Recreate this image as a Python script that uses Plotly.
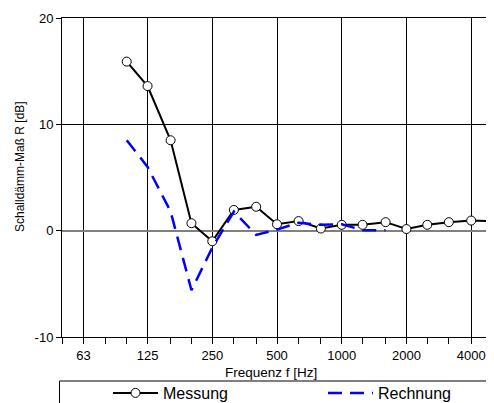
import plotly.graph_objects as go

# ---- data ----
freq_mess = [100, 125, 160, 200, 250, 315, 400, 500, 630, 800, 1000, 1250,
             1600, 2000, 2500, 3150, 4000, 5000]
r_mess = [15.9, 13.6, 8.5, 0.7, -1.0, 1.95, 2.25, 0.6, 0.9, 0.2, 0.55, 0.55,
          0.8, 0.15, 0.55, 0.8, 0.95, 0.9]
freq_rech = [100, 125, 160, 200, 250, 315, 400, 500, 630, 800, 1000, 1250, 1600]
r_rech = [8.5, 6.0, 1.8, -5.6, -1.6, 1.8, -0.4, 0.1, 0.75, 0.55, 0.6, 0.05, 0.05]

octave_vals = [63, 125, 250, 500, 1000, 2000, 4000]
octave_labels = ["63", "125", "250", "500", "1000", "2000", "4000"]
third_vals = [50, 63, 80, 100, 125, 160, 200, 250, 315, 400, 500, 630, 800,
              1000, 1250, 1600, 2000, 2500, 3150, 4000, 5000]
y_vals = [-10, 0, 10, 20]
y_labels = ["-10", "0", "10", "20"]

# page is offset by the default 8px body margin
OFF = 8
PAGE_W, PAGE_H = 494, 403
W, H = PAGE_W - OFF, PAGE_H - OFF
# plot area in page pixels
PL, PR, PT, PB = 62, 492, 18, 337
L, R, T, B = PL - OFF, W - (PR - OFF), PT - OFF, H - (PB - OFF)
PW, PH = PR - PL, PB - PT


def px_x(p):
    return (p - PL) / PW


def px_y(p):
    return (PB - p) / PH


def cx(p):
    return (p - OFF) / W


def cy(p):
    return 1 - (p - OFF) / H


FONT = "Liberation Sans, Arial, sans-serif"

fig = go.Figure()
fig.add_trace(go.Scatter(
    x=freq_mess, y=r_mess, name="Messung", mode="lines+markers",
    line=dict(color="black", width=2),
    marker=dict(symbol="circle", size=9, color="white",
                line=dict(color="black", width=1)),
    cliponaxis=False, legend="legend",
))
fig.add_trace(go.Scatter(
    x=freq_rech, y=r_rech, name="Rechnung", mode="lines",
    line=dict(color="#0000FF", width=2.5, dash="14px,8px"),
    legend="legend2",
))

leg_common = dict(xref="container", yref="container", xanchor="left",
                  yanchor="top", bgcolor="rgba(0,0,0,0)", borderwidth=0,
                  font=dict(size=16), orientation="h", itemwidth=45)

fig.update_layout(
    width=W, height=H,
    margin=dict(l=L, r=R, t=T, b=B, autoexpand=False),
    paper_bgcolor="white", plot_bgcolor="white",
    font=dict(family=FONT, size=13, color="black"),
    showlegend=True,
    legend=dict(x=cx(108), y=cy(376), **leg_common),
    legend2=dict(x=cx(323), y=cy(376), **leg_common),
    xaxis=dict(
        type="log", range=[1.69897, 3.69897],
        tickmode="array", tickvals=octave_vals, ticktext=octave_labels,
        ticks="outside", ticklen=6, tickcolor="black", tickwidth=1,
        showgrid=True, gridcolor="black", gridwidth=1,
        showline=True, linecolor="black", linewidth=1, mirror=True,
        minor=dict(tickmode="array", tickvals=third_vals, ticks="outside",
                   ticklen=6, tickcolor="black", showgrid=False),
        tickfont=dict(size=13),
        zeroline=False, automargin=False,
    ),
    yaxis=dict(
        range=[-10, 20], tickmode="array", tickvals=y_vals, ticktext=y_labels,
        ticks="outside", ticklen=5, tickcolor="black",
        showgrid=True, gridcolor="black", gridwidth=1,
        showline=True, linecolor="black", linewidth=1,
        zeroline=True, zerolinecolor="#808080", zerolinewidth=2,
        tickfont=dict(size=13), automargin=False,
    ),
    shapes=[
        dict(type="line", xref="paper", yref="paper", x0=1, x1=1, y0=0, y1=1,
             line=dict(color="#808080", width=1)),
        dict(type="rect", xref="paper", yref="paper",
             x0=px_x(59.5), x1=px_x(520), y0=px_y(381), y1=px_y(430),
             line=dict(color="black", width=1), fillcolor="rgba(0,0,0,0)"),
    ],
    annotations=[
        dict(text="Frequenz f [Hz]", xref="paper", yref="paper",
             x=px_x(271), y=px_y(372), showarrow=False,
             xanchor="center", yanchor="middle", font=dict(size=13.5)),
        dict(text="Schalldämm-Maß R [dB]", xref="paper", yref="paper",
             x=px_x(20), y=px_y(167), showarrow=False, textangle=-90,
             xanchor="center", yanchor="middle", font=dict(size=12)),
    ],
)

fig.write_html("out.html")
